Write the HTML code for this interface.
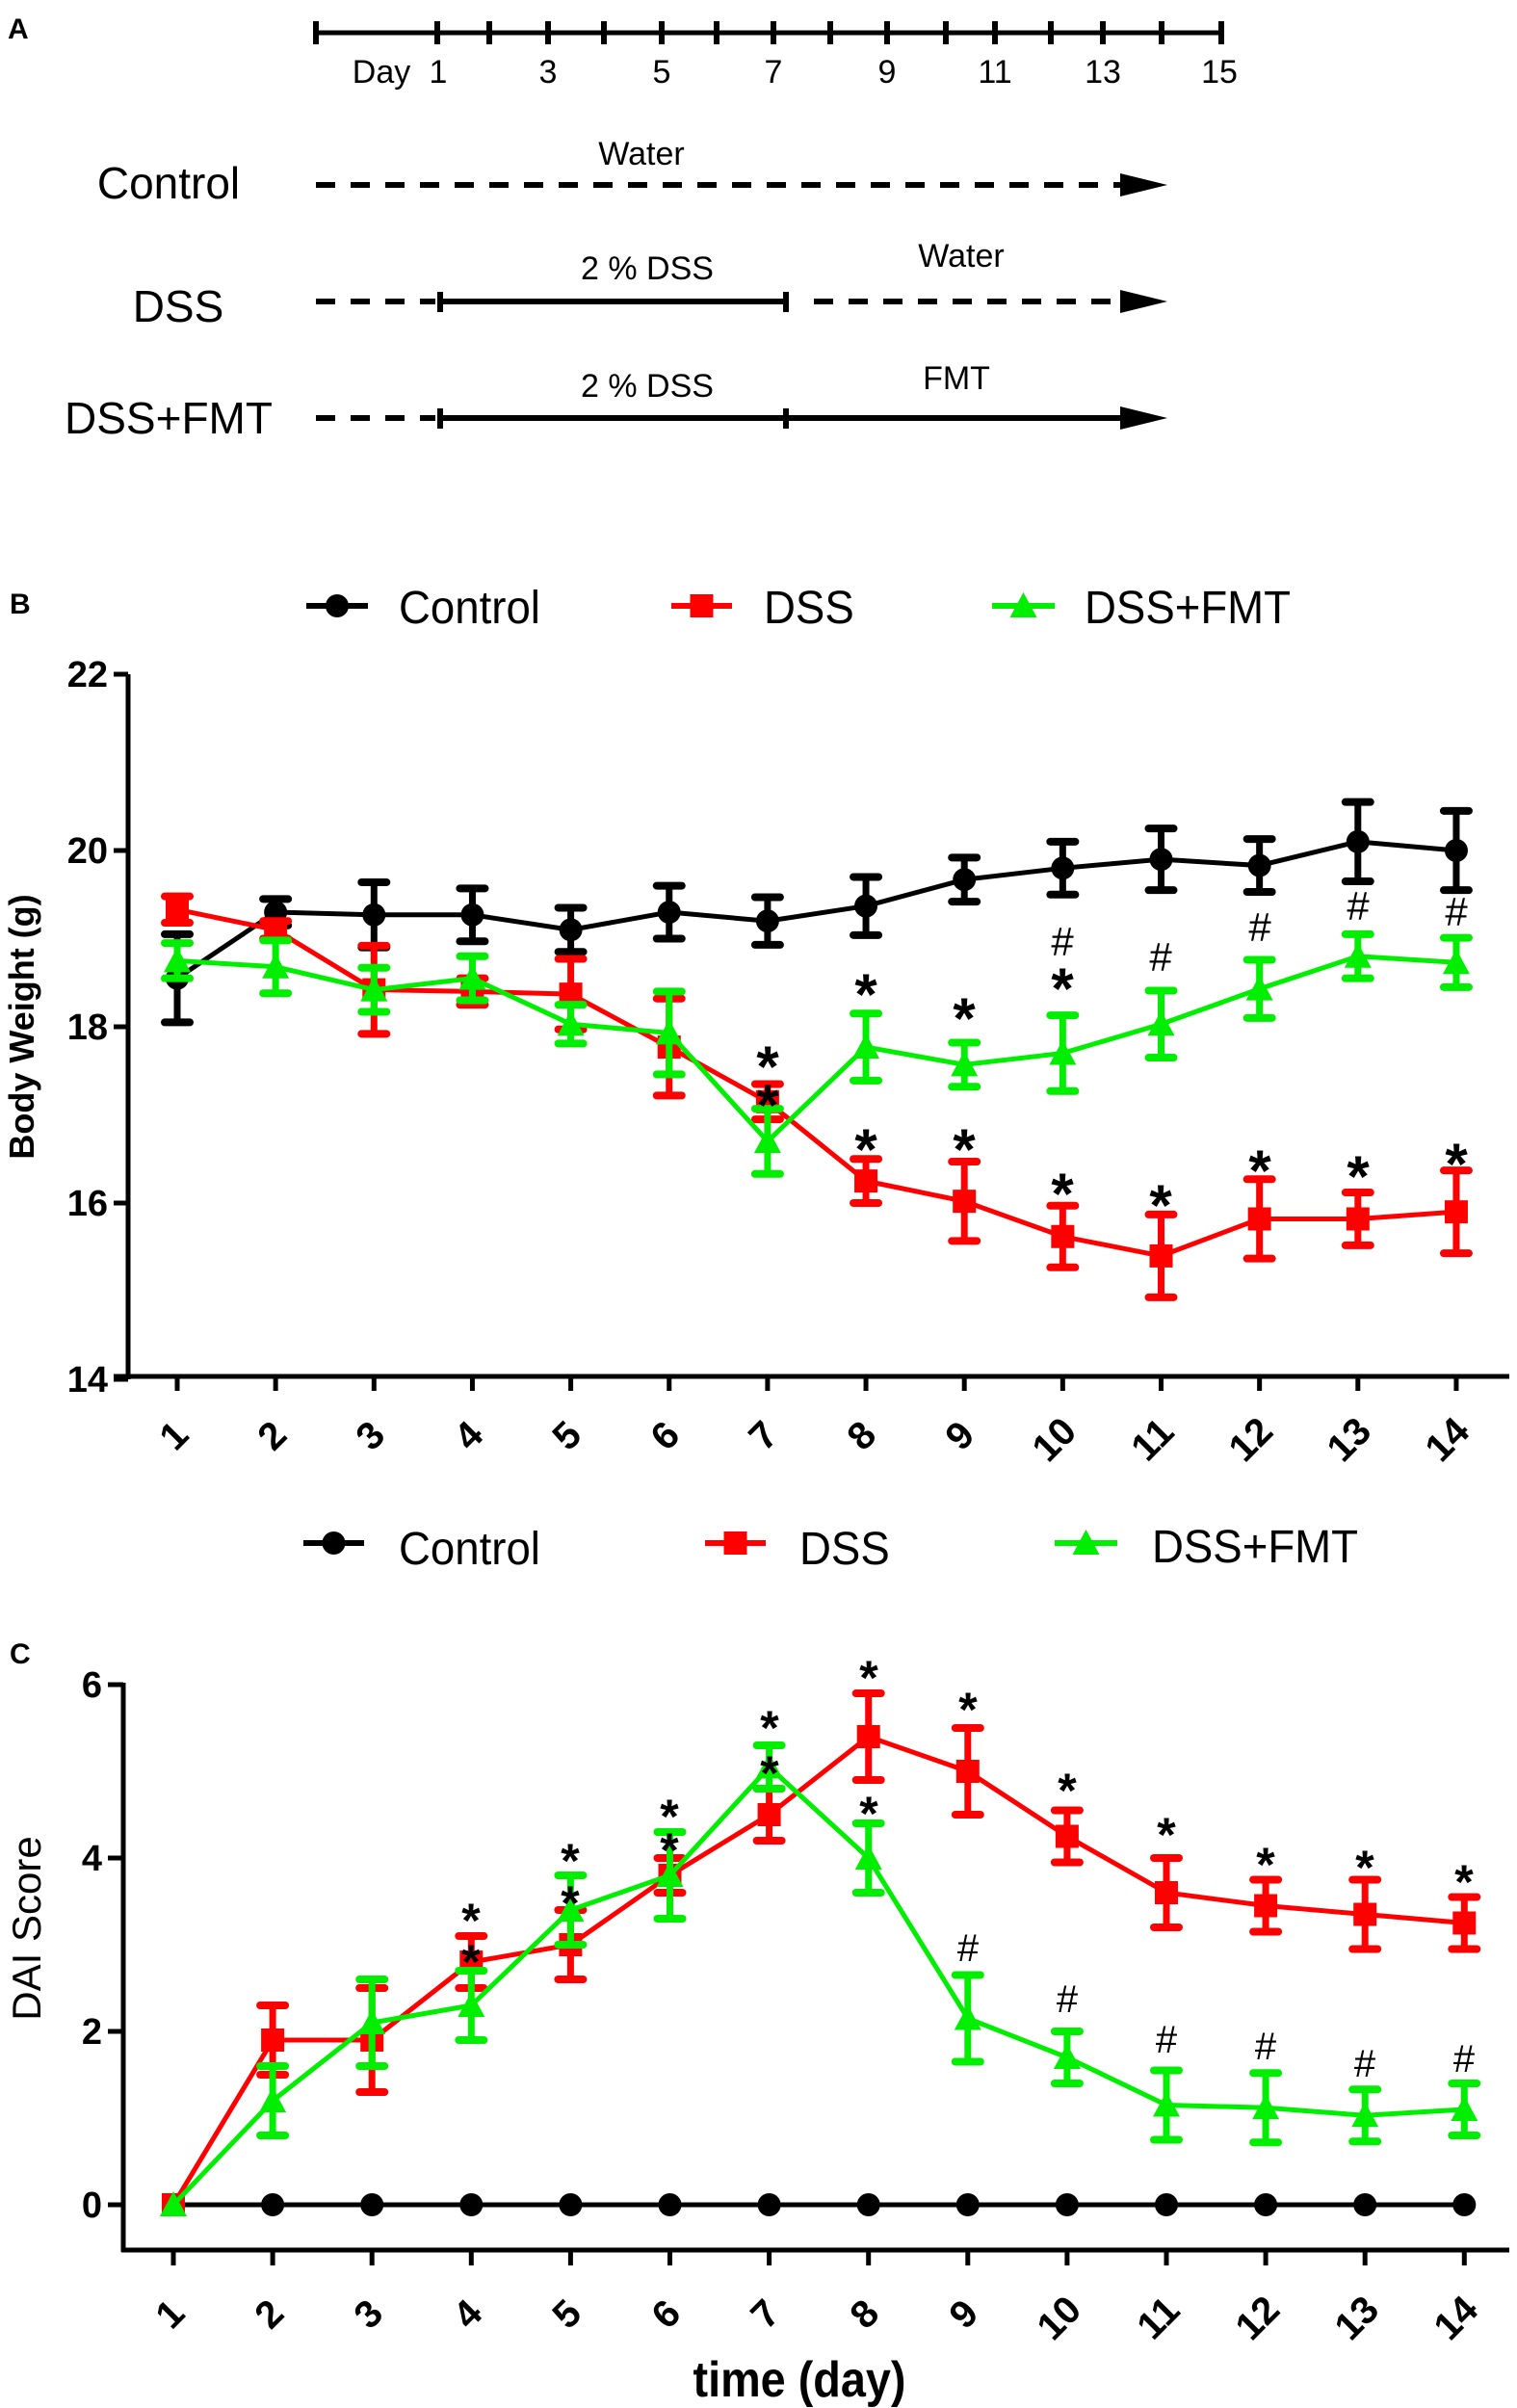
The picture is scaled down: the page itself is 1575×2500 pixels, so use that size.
<!DOCTYPE html>
<html><head><meta charset="utf-8"><style>
html,body{margin:0;padding:0;background:#fff}
svg{display:block}
text{font-family:"Liberation Sans",sans-serif}
</style></head><body>
<svg id="s" width="1575" height="2500" viewBox="0 0 1575 2500" xmlns="http://www.w3.org/2000/svg">
<rect width="1575" height="2500" fill="#fff"/>
<!-- Panel A -->
<text x="8" y="40" font-size="30" font-weight="bold">A</text>
<g stroke="#000" stroke-width="5">
<line x1="328" y1="34" x2="1268" y2="34"/>
</g>
<g id="tl" stroke="#000" stroke-width="6"></g>
<g font-size="34" text-anchor="middle">
<text x="396" y="86">Day</text><text x="455" y="86">1</text><text x="569" y="86">3</text><text x="687" y="86">5</text><text x="803" y="86">7</text><text x="921" y="86">9</text><text x="1033" y="86">11</text><text x="1145" y="86">13</text><text x="1266" y="86">15</text>
<text x="666" y="171" font-size="34">Water</text>
<text x="175" y="206" font-size="46">Control</text>
<text x="672" y="290" font-size="34">2 % DSS</text>
<text x="998" y="277" font-size="34">Water</text>
<text x="185" y="334" font-size="46">DSS</text>
<text x="672" y="412" font-size="34">2 % DSS</text>
<text x="993" y="404" font-size="34">FMT</text>
<text x="175" y="450" font-size="46">DSS+FMT</text>
</g>
<g stroke="#000" stroke-width="6" fill="none">
<line x1="328" y1="192" x2="1165" y2="192" stroke-dasharray="20,16"/>
<line x1="328" y1="313" x2="452" y2="313" stroke-dasharray="20,16"/>
<line x1="457" y1="313" x2="816" y2="313"/>
<line x1="457" y1="303" x2="457" y2="324"/><line x1="816" y1="303" x2="816" y2="324"/>
<line x1="845" y1="313" x2="1165" y2="313" stroke-dasharray="20,16"/>
<line x1="328" y1="434" x2="452" y2="434" stroke-dasharray="20,16"/>
<line x1="457" y1="434" x2="1165" y2="434"/>
<line x1="457" y1="424" x2="457" y2="445"/><line x1="816" y1="424" x2="816" y2="445"/>
</g>
<g fill="#000">
<polygon points="1163,180 1212,192 1163,204"/>
<polygon points="1163,301 1212,313 1163,325"/>
<polygon points="1163,422 1212,434 1163,446"/>
</g>

<!-- Panel B -->
<text x="10" y="637" font-size="30" font-weight="bold">B</text>
<g font-size="48">
<text x="414" y="647" transform="translate(414,647) scale(0.95,1) translate(-414,-647)">Control</text>
<text x="793" y="647" transform="translate(793,647) scale(0.95,1) translate(-793,-647)">DSS</text>
<text x="1126" y="647" transform="translate(1126,647) scale(0.95,1) translate(-1126,-647)">DSS+FMT</text>
</g>
<g id="legB"></g>
<g stroke="#000" stroke-width="5" fill="none">
<line x1="133" y1="700" x2="133" y2="1432"/>
<line x1="118" y1="1429" x2="1567" y2="1429"/>
</g>
<g id="axB"></g>
<g font-size="38" font-weight="bold" text-anchor="end">
<text x="112" y="713">22</text><text x="112" y="896">20</text><text x="112" y="1079">18</text><text x="112" y="1262">16</text><text x="112" y="1445">14</text>
</g>
<text font-size="36" font-weight="bold" text-anchor="middle" transform="translate(35,1066) rotate(-90)">Body Weight (g)</text>
<g id="serB"></g>
<g font-size="60" font-weight="bold" text-anchor="middle">
<text x="797" y="1128">*</text><text x="797" y="1168">*</text>
<text x="899" y="1053">*</text><text x="899" y="1214">*</text>
<text x="1001" y="1078">*</text><text x="1001" y="1214">*</text>
<text x="1103" y="1047">*</text><text x="1103" y="1260">*</text>
<text x="1205" y="1272">*</text>
<text x="1308" y="1236">*</text>
<text x="1410" y="1242">*</text>
<text x="1512" y="1229">*</text>
</g>
<g font-size="42" text-anchor="middle">
<text x="1103" y="992">#</text><text x="1205" y="1008">#</text><text x="1308" y="977">#</text><text x="1410" y="955">#</text><text x="1512" y="961">#</text>
</g>

<!-- Panel C -->
<g font-size="48">
<text x="414" y="1624" transform="translate(414,1624) scale(0.95,1) translate(-414,-1624)">Control</text>
<text x="830" y="1624" transform="translate(830,1624) scale(0.95,1) translate(-830,-1624)">DSS</text>
<text x="1196" y="1622" transform="translate(1196,1622) scale(0.95,1) translate(-1196,-1622)">DSS+FMT</text>
</g>
<g id="legC"></g>
<text x="10" y="1727" font-size="30" font-weight="bold">C</text>
<g stroke="#000" stroke-width="5" fill="none">
<line x1="128" y1="1747" x2="128" y2="2338"/>
<line x1="126" y1="2336" x2="1567" y2="2336"/>
</g>
<g id="axC"></g>
<g font-size="38" font-weight="bold" text-anchor="end">
<text x="106" y="1762">6</text><text x="106" y="1942">4</text><text x="106" y="2122">2</text><text x="106" y="2302">0</text>
</g>
<text font-size="42" text-anchor="middle" transform="translate(42,2002) rotate(-90)">DAI Score</text>
<text x="830" y="2488" font-size="52" font-weight="bold" text-anchor="middle" transform="translate(830,2488) scale(0.9,1) translate(-830,-2488)">time (day)</text>
<g id="serC"></g>
<g font-size="50" font-weight="bold" text-anchor="middle">
<text x="489" y="2011">*</text><text x="489" y="2054">*</text>
<text x="592" y="1949">*</text><text x="592" y="1993">*</text>
<text x="695" y="1903">*</text><text x="695" y="1938">*</text>
<text x="799" y="1811">*</text><text x="799" y="1858">*</text>
<text x="902" y="1759">*</text><text x="902" y="1900">*</text>
<text x="1005" y="1792">*</text>
<text x="1108" y="1876">*</text>
<text x="1211" y="1922">*</text>
<text x="1314" y="1953">*</text>
<text x="1417" y="1956">*</text>
<text x="1520" y="1971">*</text>
</g>
<g font-size="40" text-anchor="middle">
<text x="1005" y="2036">#</text><text x="1108" y="2089">#</text><text x="1211" y="2131">#</text><text x="1314" y="2138">#</text><text x="1417" y="2156">#</text><text x="1520" y="2151">#</text>
</g>
<g font-size="40" font-weight="bold" text-anchor="middle">
<text transform="translate(190,1500) rotate(-45)">1</text><text transform="translate(292,1500) rotate(-45)">2</text><text transform="translate(394,1500) rotate(-45)">3</text><text transform="translate(496,1500) rotate(-45)">4</text><text transform="translate(598,1500) rotate(-45)">5</text><text transform="translate(700,1500) rotate(-45)">6</text><text transform="translate(802,1500) rotate(-45)">7</text><text transform="translate(904,1500) rotate(-45)">8</text><text transform="translate(1006,1500) rotate(-45)">9</text><text transform="translate(1104,1504) rotate(-45)">10</text><text transform="translate(1206,1504) rotate(-45)">11</text><text transform="translate(1308,1504) rotate(-45)">12</text><text transform="translate(1410,1504) rotate(-45)">13</text><text transform="translate(1512,1504) rotate(-45)">14</text>
</g>
<g font-size="40" font-weight="bold" text-anchor="middle">
<text transform="translate(186,2412) rotate(-45)">1</text><text transform="translate(289,2412) rotate(-45)">2</text><text transform="translate(392,2412) rotate(-45)">3</text><text transform="translate(495,2412) rotate(-45)">4</text><text transform="translate(598,2412) rotate(-45)">5</text><text transform="translate(701,2412) rotate(-45)">6</text><text transform="translate(804,2412) rotate(-45)">7</text><text transform="translate(907,2412) rotate(-45)">8</text><text transform="translate(1010,2412) rotate(-45)">9</text><text transform="translate(1109,2416) rotate(-45)">10</text><text transform="translate(1212,2416) rotate(-45)">11</text><text transform="translate(1315,2416) rotate(-45)">12</text><text transform="translate(1418,2416) rotate(-45)">13</text><text transform="translate(1521,2416) rotate(-45)">14</text>
</g>
</svg>
<script>
var NS="http://www.w3.org/2000/svg";
function el(p,t,a){var e=document.createElementNS(NS,t);for(var k in a)e.setAttribute(k,a[k]);p.appendChild(e);return e;}
var G=function(id){return document.getElementById(id);};
[328,454,508,569,627,687,744,803,862,921,982,1033,1091,1145,1206,1268].forEach(function(x){el(G('tl'),'line',{x1:x,y1:22,x2:x,y2:46});});
function marker(g,type,x,y,c,s){
 s=s||1;
 if(type==0) el(g,'circle',{cx:x,cy:y,r:12*s,fill:c});
 else if(type==1) el(g,'rect',{x:x-12*s,y:y-12*s,width:24*s,height:24*s,fill:c});
 else el(g,'polygon',{points:(x)+','+(y-14*s)+' '+(x+14*s)+','+(y+12*s)+' '+(x-14*s)+','+(y+12*s),fill:c});
}
var cols=['#000','#f00','#0e0'];
function legend(g,y,xs){for(var i=0;i<3;i++){el(g,'line',{x1:xs[i][0],y1:y,x2:xs[i][1],y2:y,stroke:cols[i],'stroke-width':6});marker(g,i,(xs[i][0]+xs[i][1])/2,y,cols[i]);}}
legend(G('legB'),629,[[318,382],[697,760],[1030,1095]]);
legend(G('legC'),1602,[[315,378],[732,795],[1095,1160]]);
for(var d=1;d<=14;d++){var x=184+(d-1)*102.15;el(G('axB'),'line',{x1:x,y1:1429,x2:x,y2:1444,stroke:'#000','stroke-width':5});
 var xc=180+(d-1)*103.1;el(G('axC'),'line',{x1:xc,y1:2336,x2:xc,y2:2352,stroke:'#000','stroke-width':5});}
[22,20,18,16,14].forEach(function(v){var y=883+(20-v)*91.5;el(G('axB'),'line',{x1:118,y1:y,x2:133,y2:y,stroke:'#000','stroke-width':5});});
[6,4,2,0].forEach(function(v){var y=2289-90*v;el(G('axC'),'line',{x1:112,y1:y,x2:128,y2:y,stroke:'#000','stroke-width':5});});
function series(g,X,Y,data,order){
 order.forEach(function(i){var s=data[i];var pts=s.m.map(function(v,j){return X(j+1)+','+Y(v);}).join(' ');
  el(g,'polyline',{points:pts,fill:'none',stroke:cols[i],'stroke-width':5});
  s.m.forEach(function(v,j){if(!s.e[j])return;var x=X(j+1);var y1=Y(v+s.e[j]),y2=Y(v-s.e[j]);
   el(g,'line',{x1:x,y1:y1,x2:x,y2:y2,stroke:cols[i],'stroke-width':7});
   el(g,'line',{x1:x-13,y1:y1,x2:x+13,y2:y1,stroke:cols[i],'stroke-width':8,'stroke-linecap':'round'});
   el(g,'line',{x1:x-13,y1:y2,x2:x+13,y2:y2,stroke:cols[i],'stroke-width':8,'stroke-linecap':'round'});});
  s.m.forEach(function(v,j){marker(g,i,X(j+1),Y(v),cols[i]);});
 });
}
var B=[
{m:[18.55,19.3,19.27,19.27,19.1,19.3,19.2,19.37,19.67,19.8,19.9,19.83,20.1,20.0],e:[0.5,0.15,0.37,0.3,0.25,0.3,0.27,0.33,0.25,0.3,0.35,0.3,0.45,0.45]},
{m:[19.33,19.1,18.42,18.4,18.37,17.77,17.15,16.25,16.02,15.62,15.4,15.82,15.82,15.9],e:[0.15,0.1,0.5,0.15,0.4,0.55,0.2,0.25,0.45,0.35,0.47,0.45,0.3,0.47]},
{m:[18.75,18.68,18.42,18.55,18.03,17.93,16.7,17.77,17.57,17.7,18.03,18.43,18.8,18.73],e:[0.2,0.3,0.25,0.25,0.22,0.47,0.37,0.38,0.25,0.43,0.38,0.33,0.25,0.28]}];
series(G('serB'),function(d){return 184+(d-1)*102.15;},function(v){return 883+(20-v)*91.5;},B,[0,1,2]);
var C=[
{m:[0,0,0,0,0,0,0,0,0,0,0,0,0,0],e:[0,0,0,0,0,0,0,0,0,0,0,0,0,0]},
{m:[0,1.9,1.9,2.8,3.0,3.8,4.5,5.4,5.0,4.25,3.6,3.45,3.35,3.25],e:[0,0.4,0.6,0.3,0.4,0.2,0.3,0.5,0.5,0.3,0.4,0.3,0.4,0.3]},
{m:[0,1.2,2.1,2.3,3.4,3.8,5.05,4.0,2.15,1.7,1.15,1.12,1.03,1.1],e:[0,0.4,0.5,0.4,0.4,0.5,0.25,0.4,0.5,0.3,0.4,0.4,0.3,0.3]}];
series(G('serC'),function(d){return 180+(d-1)*103.1;},function(v){return 2289-90*v;},C,[0,1,2]);
</script>
</body></html>
